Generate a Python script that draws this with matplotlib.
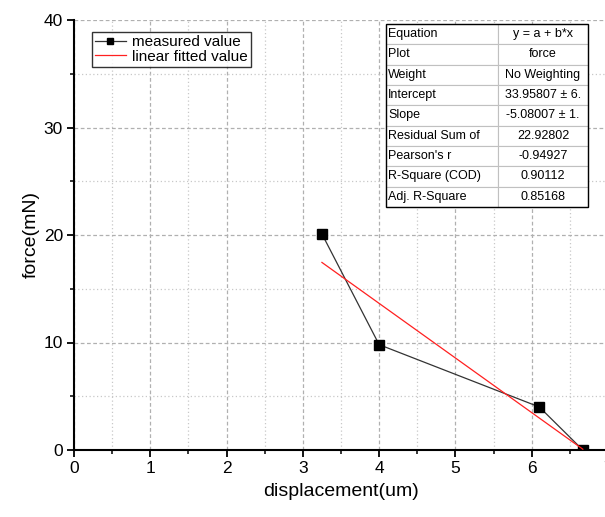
import matplotlib
matplotlib.use("Agg")
import matplotlib.pyplot as plt
import numpy as np
from matplotlib.ticker import MultipleLocator
from matplotlib.patches import Rectangle

plt.rcParams['font.family'] = ['Liberation Sans', 'DejaVu Sans']

displacement = [3.25, 4.0, 6.1, 6.67]
force = [20.1, 9.8, 4.0, 0.0]
intercept = 33.95807
slope = -5.08007

table_rows = [
    ("Equation", "y = a + b*x"),
    ("Plot", "force"),
    ("Weight", "No Weighting"),
    ("Intercept", "33.95807 ± 6."),
    ("Slope", "-5.08007 ± 1."),
    ("Residual Sum of", "22.92802"),
    ("Pearson's r", "-0.94927"),
    ("R-Square (COD)", "0.90112"),
    ("Adj. R-Square", "0.85168"),
]

fig = plt.figure(figsize=(6.05, 5.17), dpi=100)
ax = fig.add_axes([74/605, 1-450/517, (608-74)/605, (450-20)/517])

xs = np.array([displacement[0], displacement[-1]])
ax.plot(displacement, force, color='#333333', lw=0.9, marker='s', ms=7,
        mfc='black', mec='black', label='measured value', zorder=3)
ax.plot(xs, intercept + slope*xs, color='#ff2020', lw=0.9, label='linear fitted value', zorder=4)

ax.set_xlim(0, 7)
ax.set_ylim(0, 40)
ax.xaxis.set_major_locator(MultipleLocator(1))
ax.xaxis.set_minor_locator(MultipleLocator(0.5))
ax.yaxis.set_major_locator(MultipleLocator(10))
ax.yaxis.set_minor_locator(MultipleLocator(5))
ax.grid(which='major', color='#b0b0b0', ls=(0, (3, 2)), lw=0.9)
ax.grid(which='minor', color='#c8c8c8', ls=(0, (1, 2)), lw=0.9)
ax.set_axisbelow(True)

for s in ['top', 'right']:
    ax.spines[s].set_visible(False)
for s in ['left', 'bottom']:
    ax.spines[s].set_linewidth(1.5)
ax.tick_params(which='major', direction='out', length=5, width=1.3, labelsize=12.5, pad=3)
ax.tick_params(which='minor', direction='out', length=3, width=1.1)

ax.set_xlabel('displacement(um)', fontsize=14, labelpad=5)
ax.set_ylabel('force(mN)', fontsize=14, labelpad=3)

leg = ax.legend(loc='upper left', bbox_to_anchor=((92-74)/534, (450-32)/430),
                fontsize=11, frameon=True, fancybox=False, edgecolor='black',
                borderpad=0.2, handlelength=2.0, handletextpad=0.4, labelspacing=0.05,
                borderaxespad=0, markerscale=0.65)
leg.get_frame().set_linewidth(1.0)

tbl = ax.table(cellText=[list(r) for r in table_rows],
               colWidths=[0.554, 0.446],
               bbox=[(386-74)/534, (450-207)/430, (588-386)/534, (207-24)/430],
               cellLoc='center', zorder=10)
tbl.auto_set_font_size(False)
tbl.set_fontsize(9)
for (r, c), cell in tbl.get_celld().items():
    cell.set_edgecolor('#c0c0c0')
    cell.set_linewidth(0.8)
    cell.set_facecolor('white')
    if c == 0:
        cell._loc = 'left'
        cell.get_text().set_ha('left')
        cell.PAD = 0.02
ax.add_patch(Rectangle(((386-74)/534, (450-207)/430), (588-386)/534, (207-24)/430,
                       transform=ax.transAxes, fill=False, edgecolor='black', lw=1.0,
                       zorder=11, clip_on=False))

fig.savefig('out.png', dpi=100)
